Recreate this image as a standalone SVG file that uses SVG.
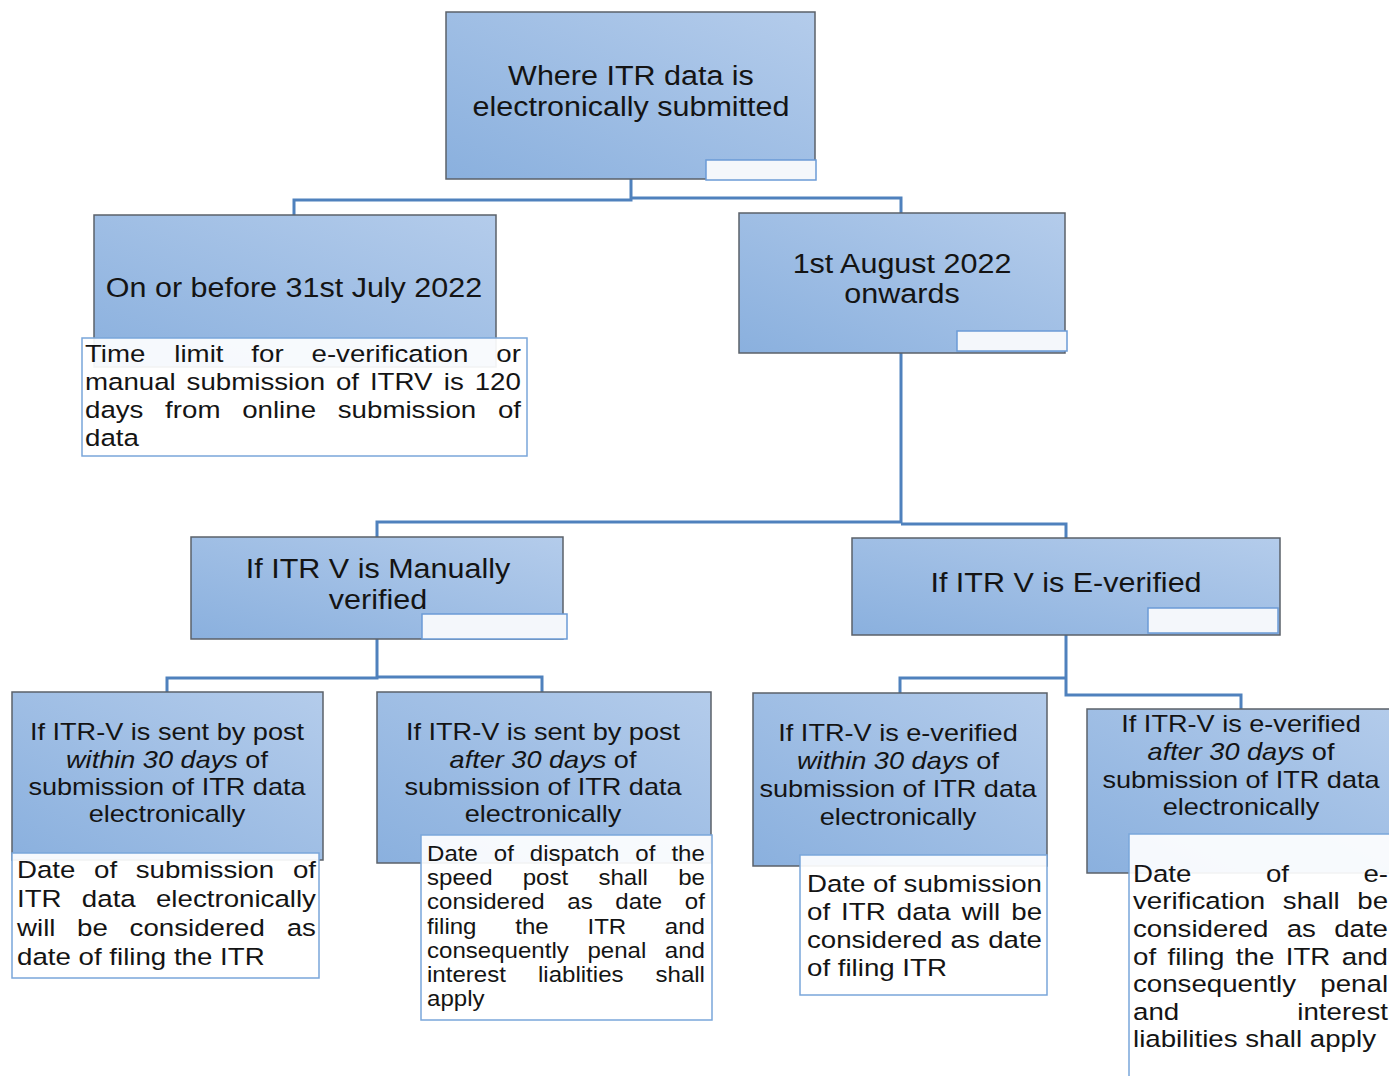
<svg xmlns="http://www.w3.org/2000/svg" width="1389" height="1076" viewBox="0 0 1389 1076">
<defs>
<linearGradient id="bx" x1="0" y1="1" x2="1" y2="0">
<stop offset="0" stop-color="#8AB0DE"/>
<stop offset="1" stop-color="#B4CCEB"/>
</linearGradient>
<style>
.box{fill:url(#bx);stroke:#5B6169;stroke-width:1.5}
.tab{fill:#F4F7FB;stroke:#6B9BD6;stroke-width:1.5}
.det{fill:#FFFFFF;fill-opacity:0.92;stroke:#7AA6DA;stroke-width:1.5}
.conn{fill:none;stroke:#4F81BD;stroke-width:3}
text{font-family:"Liberation Sans",Arial,sans-serif;fill:#141414}
.t1{font-size:27px;text-anchor:middle}
.t2{font-size:24px;text-anchor:middle}
.d{font-size:24.5px}
.d2{font-size:21.3px}
.i{font-style:italic}
</style>
</defs>
<rect width="1389" height="1076" fill="#FFFFFF"/>

<g id="connectors">
<path class="conn" d="M631,179 V200 H294 V215"/>
<path class="conn" d="M631,198 H901 V213"/>
<path class="conn" d="M901,353 V522 H377 V537"/>
<path class="conn" d="M901,524 H1066 V538"/>
<path class="conn" d="M377,639 V678 H167 V692"/>
<path class="conn" d="M377,677 H542 V692"/>
<path class="conn" d="M1066,635 V695 H1241 V709"/>
<path class="conn" d="M1066,678 H900 V693"/>
</g>

<g id="n-root">
<rect class="box" x="446" y="12" width="369" height="167"/>
<rect class="tab" x="706" y="160" width="110" height="20"/>
<text class="t1" transform="translate(631 0) scale(1.13 1)"><tspan x="0" y="85">Where ITR data is</tspan><tspan x="0" y="116">electronically submitted</tspan></text>
</g>

<g id="n-before">
<rect class="box" x="94" y="215" width="402" height="152"/>
<text class="t1" transform="translate(294 0) scale(1.13 1)"><tspan x="0" y="297">On or before 31st July 2022</tspan></text>
<g id="n-before-note">
<rect class="det" x="82" y="338" width="445" height="118"/>
<text class="d" transform="translate(85 0) scale(1.13 1)"><tspan x="0" y="362">Time</tspan><tspan x="79.05">limit</tspan><tspan x="147.2">for</tspan><tspan x="200.45">e-verification</tspan><tspan x="364">or</tspan><tspan x="0" y="390">manual</tspan><tspan x="89.94">submission</tspan><tspan x="222.08">of</tspan><tspan x="252.12">ITRV</tspan><tspan x="317.56">is</tspan><tspan x="344.9">120</tspan><tspan x="0" y="418">days</tspan><tspan x="70.9">from</tspan><tspan x="139.1">online</tspan><tspan x="223.7">submission</tspan><tspan x="365.4">of</tspan><tspan x="0" y="446">data</tspan></text>
</g>
</g>

<g id="n-after">
<rect class="box" x="739" y="213" width="326" height="140"/>
<rect class="tab" x="957" y="331" width="110" height="20"/>
<text class="t1" transform="translate(902 0) scale(1.13 1)"><tspan x="0" y="273">1st August 2022</tspan><tspan x="0" y="303">onwards</tspan></text>
</g>

<g id="n-manual">
<rect class="box" x="191" y="537" width="372" height="102"/>
<rect class="tab" x="422" y="614" width="145" height="25"/>
<text class="t1" transform="translate(378 0) scale(1.13 1)"><tspan x="0" y="578">If ITR V is Manually</tspan><tspan x="0" y="609">verified</tspan></text>
</g>

<g id="n-everified">
<rect class="box" x="852" y="538" width="428" height="97"/>
<rect class="tab" x="1148" y="608" width="130" height="25"/>
<text class="t1" transform="translate(1066 0) scale(1.13 1)"><tspan x="0" y="592">If ITR V is E-verified</tspan></text>
</g>

<g id="n-post-within">
<rect class="box" x="12" y="692" width="311" height="168"/>
<text class="t2" transform="translate(167 0) scale(1.13 1)"><tspan x="0" y="740">If ITR-V is sent by post</tspan><tspan x="0" y="768"><tspan class="i">within 30 days</tspan> of</tspan><tspan x="0" y="795">submission of ITR data</tspan><tspan x="0" y="822">electronically</tspan></text>
<g id="n-post-within-note">
<rect class="det" x="12" y="853" width="307" height="125"/>
<text class="d" transform="translate(17 0) scale(1.13 1)"><tspan x="0" y="878">Date</tspan><tspan x="68.2">of</tspan><tspan x="105.1">submission</tspan><tspan x="244.2">of</tspan><tspan x="0" y="907">ITR</tspan><tspan x="57.4">data</tspan><tspan x="123">electronically</tspan><tspan x="0" y="936">will</tspan><tspan x="53.2">be</tspan><tspan x="99.6">considered</tspan><tspan x="238.7">as</tspan><tspan x="0" y="965">date of filing the ITR</tspan></text>
</g>
</g>

<g id="n-post-after">
<rect class="box" x="377" y="692" width="334" height="171"/>
<text class="t2" transform="translate(543 0) scale(1.13 1)"><tspan x="0" y="740">If ITR-V is sent by post</tspan><tspan x="0" y="768"><tspan class="i">after 30 days</tspan> of</tspan><tspan x="0" y="795">submission of ITR data</tspan><tspan x="0" y="822">electronically</tspan></text>
<g id="n-post-after-note">
<rect class="det" x="421" y="835" width="291" height="185"/>
<text class="d2" transform="translate(427 0) scale(1.13 1)"><tspan x="0" y="861">Date</tspan><tspan x="59.1">of</tspan><tspan x="91">dispatch</tspan><tspan x="184.4">of</tspan><tspan x="216.3">the</tspan><tspan x="0" y="885">speed</tspan><tspan x="84.7">post</tspan><tspan x="151.7">shall</tspan><tspan x="222.3">be</tspan><tspan x="0" y="909">considered</tspan><tspan x="124.2">as</tspan><tspan x="166.7">date</tspan><tspan x="228.1">of</tspan><tspan x="0" y="934">filing</tspan><tspan x="78.1">the</tspan><tspan x="142">ITR</tspan><tspan x="210.5">and</tspan><tspan x="0" y="958">consequently</tspan><tspan x="142">penal</tspan><tspan x="210.5">and</tspan><tspan x="0" y="982">interest</tspan><tspan x="98.2">liablities</tspan><tspan x="202.2">shall</tspan><tspan x="0" y="1006">apply</tspan></text>
</g>
</g>

<g id="n-e-within">
<rect class="box" x="753" y="693" width="294" height="173"/>
<text class="t2" transform="translate(898 0) scale(1.13 1)"><tspan x="0" y="741">If ITR-V is e-verified</tspan><tspan x="0" y="769"><tspan class="i">within 30 days</tspan> of</tspan><tspan x="0" y="797">submission of ITR data</tspan><tspan x="0" y="825">electronically</tspan></text>
<g id="n-e-within-note">
<rect class="det" x="800" y="855" width="247" height="140"/>
<text class="d" transform="translate(807 0) scale(1.13 1)"><tspan x="0" y="892">Date</tspan><tspan x="58.4">of</tspan><tspan x="85.5">submission</tspan><tspan x="0" y="920">of</tspan><tspan x="30.2">ITR</tspan><tspan x="79.5">data</tspan><tspan x="137">will</tspan><tspan x="180.8">be</tspan><tspan x="0" y="948">considered</tspan><tspan x="127.1">as</tspan><tspan x="160.3">date</tspan><tspan x="0" y="976">of filing ITR</tspan></text>
</g>
</g>

<g id="n-e-after">
<rect class="box" x="1087" y="709" width="320" height="164"/>
<text class="t2" transform="translate(1241 0) scale(1.13 1)"><tspan x="0" y="732">If ITR-V is e-verified</tspan><tspan x="0" y="760"><tspan class="i">after 30 days</tspan> of</tspan><tspan x="0" y="788">submission of ITR data</tspan><tspan x="0" y="815">electronically</tspan></text>
<g id="n-e-after-note">
<rect class="det" x="1129" y="834" width="280" height="260"/>
<text class="d" transform="translate(1133 0) scale(1.13 1)"><tspan x="0" y="882">Date</tspan><tspan x="117.6">of</tspan><tspan x="203.9">e-</tspan><tspan x="0" y="909">verification</tspan><tspan x="132.6">shall</tspan><tspan x="198.5">be</tspan><tspan x="0" y="937">considered</tspan><tspan x="136">as</tspan><tspan x="178">date</tspan><tspan x="0" y="965">of</tspan><tspan x="30.5">filing</tspan><tspan x="91">the</tspan><tspan x="135.2">ITR</tspan><tspan x="184.8">and</tspan><tspan x="0" y="992">consequently</tspan><tspan x="165.8">penal</tspan><tspan x="0" y="1020">and</tspan><tspan x="145.4">interest</tspan><tspan x="0" y="1047">liabilities shall apply</tspan></text>
</g>
</g>
</svg>
